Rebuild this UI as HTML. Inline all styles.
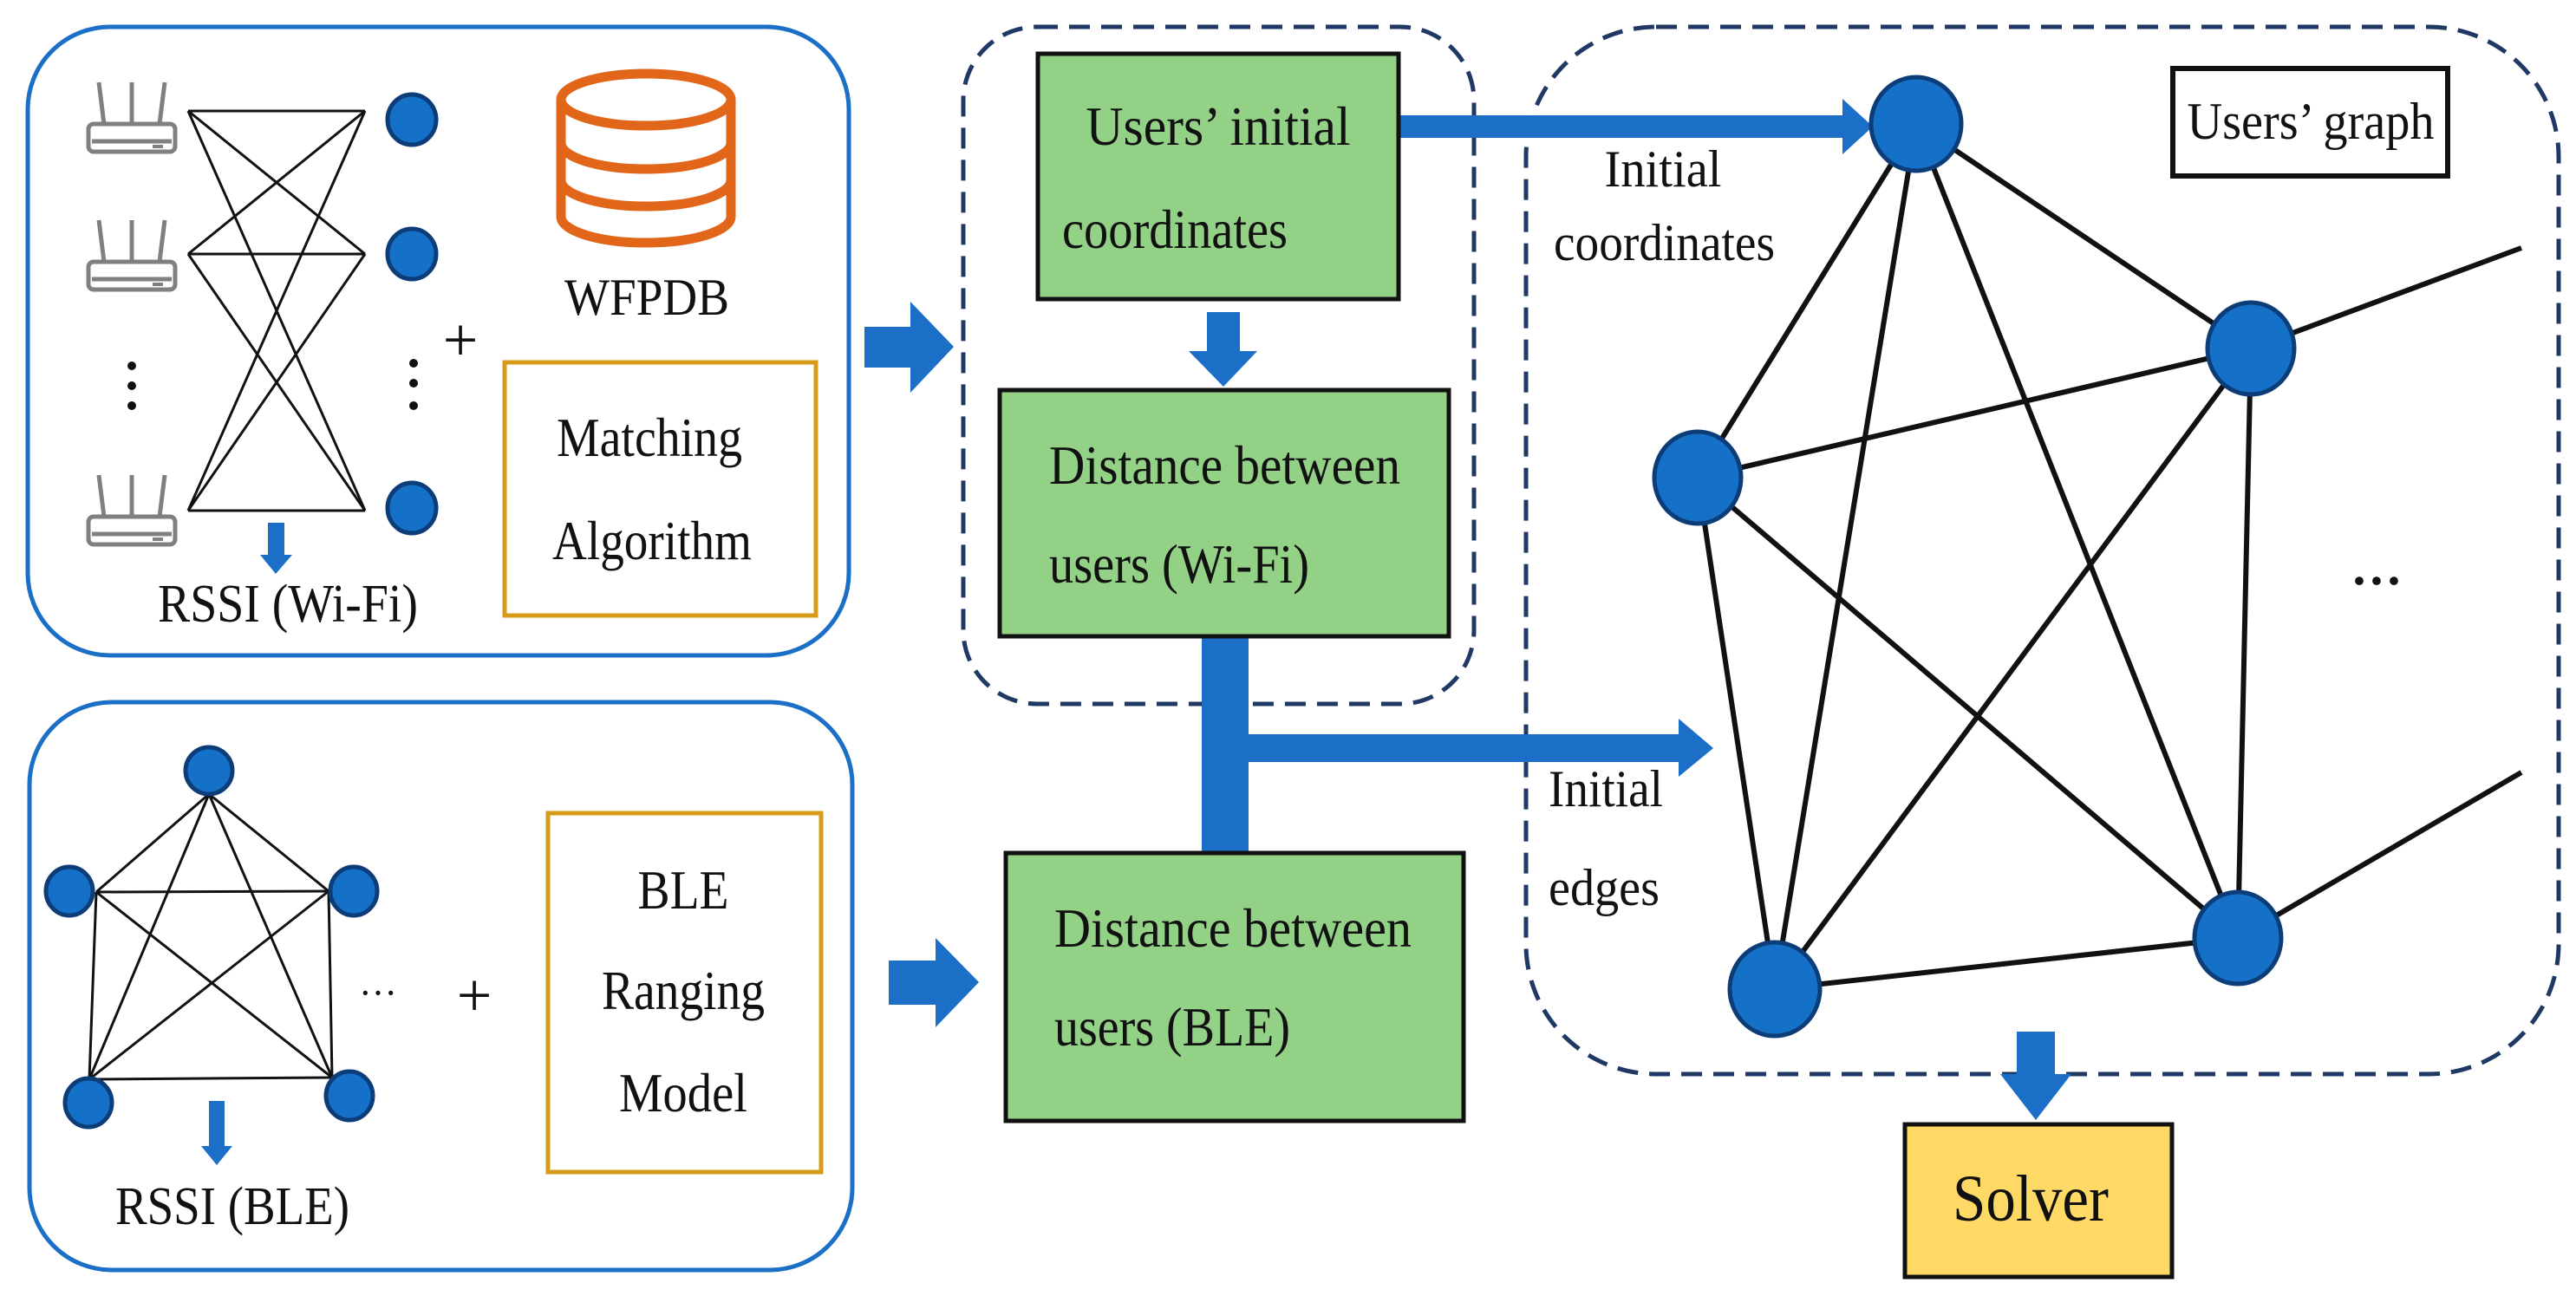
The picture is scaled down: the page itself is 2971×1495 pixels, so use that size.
<!DOCTYPE html>
<html><head><meta charset="utf-8"><style>
html,body{margin:0;padding:0;background:#fff;}
svg{display:block;}
text{font-family:"Liberation Serif",serif;fill:#111;}
</style></head><body>
<svg width="2971" height="1495" viewBox="0 0 2971 1495" xmlns="http://www.w3.org/2000/svg">
<defs>
<g id="router" fill="none" stroke="#808080" stroke-width="5">
<rect x="0" y="48" width="100" height="32" rx="6"/>
<line x1="4" y1="68" x2="96" y2="68"/>
<line x1="18" y1="48" x2="12" y2="0"/>
<line x1="50" y1="48" x2="50" y2="0"/>
<line x1="82" y1="48" x2="88" y2="0"/>
<rect x="74" y="72" width="12" height="4" fill="#808080" stroke="none"/>
</g>
</defs>

<rect x="32" y="31" width="947" height="725" rx="95" fill="none" stroke="#1b6fc6" stroke-width="5"/>
<use href="#router" x="102" y="95"/>
<use href="#router" x="102" y="254"/>
<use href="#router" x="102" y="548"/>
<g fill="#111">
<circle cx="152" cy="422" r="5"/><circle cx="152" cy="445" r="5"/><circle cx="152" cy="468" r="5"/>
<circle cx="477" cy="419" r="5"/><circle cx="477" cy="442" r="5"/><circle cx="477" cy="468" r="5"/>
</g>
<g stroke="#111" stroke-width="3">
<line x1="217" y1="128" x2="421" y2="128"/><line x1="217" y1="128" x2="421" y2="293"/><line x1="217" y1="128" x2="421" y2="589"/>
<line x1="217" y1="293" x2="421" y2="128"/><line x1="217" y1="293" x2="421" y2="293"/><line x1="217" y1="293" x2="421" y2="589"/>
<line x1="217" y1="589" x2="421" y2="128"/><line x1="217" y1="589" x2="421" y2="293"/><line x1="217" y1="589" x2="421" y2="589"/>
</g>
<g fill="#1570c8" stroke="#0d3d78" stroke-width="5">
<ellipse cx="475" cy="138" rx="28" ry="29"/><ellipse cx="475" cy="293" rx="28" ry="29"/><ellipse cx="475" cy="586" rx="28" ry="29"/>
</g>
<text x="531" y="416" font-size="72" text-anchor="middle">+</text>
<g fill="none" stroke="#e2661a" stroke-width="11">
<ellipse cx="745" cy="115" rx="98" ry="30"/>
<path d="M647 115 V250 A98 30 0 0 0 843 250 V115"/>
<path d="M647 165 A98 30 0 0 0 843 165"/>
<path d="M647 208 A98 30 0 0 0 843 208"/>
</g>
<text x="746" y="363" font-size="60" text-anchor="middle" textLength="190" lengthAdjust="spacingAndGlyphs">WFPDB</text>
<rect x="582" y="418" width="359" height="292" fill="none" stroke="#d89a1a" stroke-width="5"/>
<text x="749" y="526" font-size="64" text-anchor="middle" textLength="214" lengthAdjust="spacingAndGlyphs">Matching</text>
<text x="752" y="645" font-size="64" text-anchor="middle" textLength="230" lengthAdjust="spacingAndGlyphs">Algorithm</text>
<polygon points="309,603 328,603 328,640 337,640 318,662 300,640 309,640" fill="#1b6fc6"/>
<text x="332" y="717" font-size="62" text-anchor="middle" textLength="300" lengthAdjust="spacingAndGlyphs">RSSI (Wi-Fi)</text>

<rect x="34" y="810" width="949" height="655" rx="95" fill="none" stroke="#1b6fc6" stroke-width="5"/>
<g stroke="#111" stroke-width="3">
<line x1="241" y1="916" x2="111" y2="1029"/><line x1="241" y1="916" x2="379" y2="1028"/>
<line x1="241" y1="916" x2="103" y2="1245"/><line x1="241" y1="916" x2="383" y2="1243"/>
<line x1="111" y1="1029" x2="379" y2="1028"/><line x1="111" y1="1029" x2="103" y2="1245"/><line x1="111" y1="1029" x2="383" y2="1243"/>
<line x1="379" y1="1028" x2="103" y2="1245"/><line x1="379" y1="1028" x2="383" y2="1243"/>
<line x1="103" y1="1245" x2="383" y2="1243"/>
</g>
<g fill="#1570c8" stroke="#0d3d78" stroke-width="5">
<ellipse cx="241" cy="889" rx="27" ry="27"/><ellipse cx="80" cy="1028" rx="27" ry="28"/><ellipse cx="408" cy="1028" rx="27" ry="28"/>
<ellipse cx="102" cy="1272" rx="27" ry="28"/><ellipse cx="403" cy="1264" rx="27" ry="28"/>
</g>
<text x="436" y="1160" font-size="44" text-anchor="middle">···</text>
<text x="547" y="1172" font-size="72" text-anchor="middle">+</text>
<rect x="632" y="938" width="315" height="414" fill="none" stroke="#d89a1a" stroke-width="5"/>
<text x="788" y="1048" font-size="64" text-anchor="middle" textLength="105" lengthAdjust="spacingAndGlyphs">BLE</text>
<text x="788" y="1164" font-size="64" text-anchor="middle" textLength="188" lengthAdjust="spacingAndGlyphs">Ranging</text>
<text x="788" y="1282" font-size="64" text-anchor="middle" textLength="148" lengthAdjust="spacingAndGlyphs">Model</text>
<polygon points="241,1270 259,1270 259,1322 268,1322 250,1344 232,1322 241,1322" fill="#1b6fc6"/>
<text x="268" y="1412" font-size="62" text-anchor="middle" textLength="270" lengthAdjust="spacingAndGlyphs">RSSI (BLE)</text>

<polygon points="997,377 1050,377 1050,348 1100,400 1050,453 1050,424 997,424" fill="#1b6fc6"/>
<polygon points="1025,1108 1079,1108 1079,1082 1129,1133 1079,1185 1079,1159 1025,1159" fill="#1b6fc6"/>

<rect x="1111" y="31" width="589" height="781" rx="85" fill="none" stroke="#1f3864" stroke-width="5" stroke-dasharray="24 13"/>
<rect x="1760" y="31" width="1191" height="1208" rx="150" fill="none" stroke="#1f3864" stroke-width="5" stroke-dasharray="24 13"/>

<polygon points="1613,133 2125,133 2125,114 2160,146 2125,178 2125,159 1613,159" fill="#1b6fc6"/>
<rect x="1386" y="734" width="54" height="250" fill="#1b6fc6"/>
<polygon points="1440,847 1936,847 1936,829 1976,863 1936,896 1936,879 1440,879" fill="#1b6fc6"/>
<polygon points="1392,360 1430,360 1430,405 1450,405 1411,446 1371,405 1392,405" fill="#1b6fc6"/>

<rect x="1197" y="62" width="416" height="283" fill="#93d187" stroke="#111" stroke-width="5"/>
<text x="1405" y="167" font-size="64" text-anchor="middle" textLength="305" lengthAdjust="spacingAndGlyphs">Users’ initial</text>
<text x="1355" y="286" font-size="64" text-anchor="middle" textLength="260" lengthAdjust="spacingAndGlyphs">coordinates</text>
<rect x="1153" y="450" width="518" height="284" fill="#93d187" stroke="#111" stroke-width="5"/>
<text x="1210" y="558" font-size="64" textLength="405" lengthAdjust="spacingAndGlyphs">Distance between</text>
<text x="1210" y="672" font-size="64" textLength="300" lengthAdjust="spacingAndGlyphs">users (Wi-Fi)</text>
<rect x="1160" y="984" width="528" height="309" fill="#93d187" stroke="#111" stroke-width="5"/>
<text x="1216" y="1092" font-size="64" textLength="412" lengthAdjust="spacingAndGlyphs">Distance  between</text>
<text x="1216" y="1206" font-size="64" textLength="272" lengthAdjust="spacingAndGlyphs">users (BLE)</text>

<text x="1918" y="215" font-size="60" text-anchor="middle" textLength="135" lengthAdjust="spacingAndGlyphs">Initial</text>
<text x="1792" y="300" font-size="60" textLength="255" lengthAdjust="spacingAndGlyphs">coordinates</text>
<text x="1786" y="930" font-size="60" textLength="132" lengthAdjust="spacingAndGlyphs">Initial</text>
<text x="1786" y="1044" font-size="60" textLength="128" lengthAdjust="spacingAndGlyphs">edges</text>

<g stroke="#111" stroke-width="6">
<line x1="2210" y1="143" x2="2596" y2="402"/><line x1="2210" y1="143" x2="1958" y2="551"/>
<line x1="2210" y1="143" x2="2047" y2="1141"/><line x1="2210" y1="143" x2="2581" y2="1082"/>
<line x1="2596" y1="402" x2="1958" y2="551"/><line x1="2596" y1="402" x2="2047" y2="1141"/><line x1="2596" y1="402" x2="2581" y2="1082"/>
<line x1="1958" y1="551" x2="2047" y2="1141"/><line x1="1958" y1="551" x2="2581" y2="1082"/>
<line x1="2047" y1="1141" x2="2581" y2="1082"/>
<line x1="2596" y1="402" x2="2908" y2="286"/><line x1="2581" y1="1082" x2="2908" y2="891"/>
</g>
<g fill="#1570c8" stroke="#0d3d78" stroke-width="5">
<ellipse cx="2210" cy="143" rx="52" ry="54"/><ellipse cx="2596" cy="402" rx="50" ry="53"/>
<ellipse cx="1958" cy="551" rx="50" ry="53"/><ellipse cx="2047" cy="1141" rx="52" ry="54"/>
<ellipse cx="2581" cy="1082" rx="50" ry="53"/>
</g>
<text x="2741" y="690" font-size="60" text-anchor="middle" font-weight="bold">···</text>
<rect x="2506" y="79" width="317" height="124" fill="#fff" stroke="#111" stroke-width="6"/>
<text x="2665" y="160" font-size="60" text-anchor="middle" textLength="285" lengthAdjust="spacingAndGlyphs">Users’ graph</text>

<polygon points="2326,1190 2370,1190 2370,1239 2389,1239 2348,1292 2307,1239 2326,1239" fill="#1b6fc6"/>
<rect x="2197" y="1297" width="308" height="176" fill="#ffd966" stroke="#111" stroke-width="5"/>
<text x="2342" y="1408" font-size="76" text-anchor="middle" textLength="180" lengthAdjust="spacingAndGlyphs">Solver</text>
</svg>
</body></html>
